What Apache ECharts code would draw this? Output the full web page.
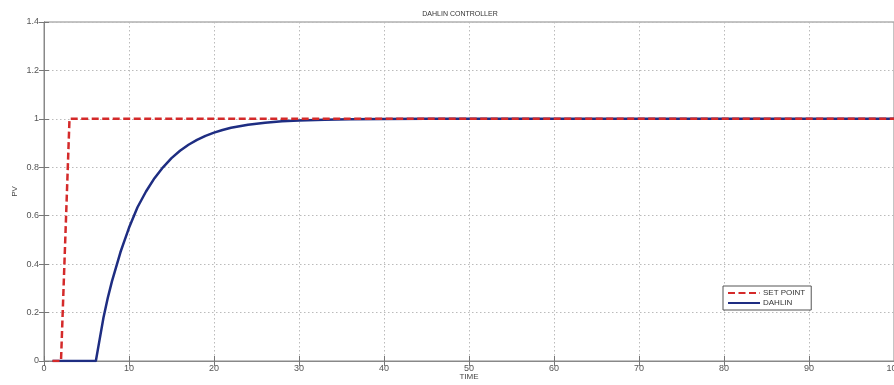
<!DOCTYPE html>
<html><head><meta charset="utf-8">
<script src="https://cdn.jsdelivr.net/npm/echarts@6/dist/echarts.min.js"></script>
<style>html,body{margin:0;padding:0;background:#fff}#c{width:894px;height:385px}</style>
</head><body><div id="c"></div>
<script>
const titleText = 'DAHLIN CONTROLLER';
const xLabel = 'TIME';
const yLabel = 'PV';
const seriesNames = ['SET POINT', 'DAHLIN'];
const setPointT = [1, 2, 3, 100];
const setPointV = [0, 0, 1, 1];
const dahlinT = [1, 6.1, 6.5, 7, 7.5, 8, 8.5, 9, 9.5, 10, 11, 12, 13, 14, 15, 16, 17, 18, 19, 20, 21, 22, 24, 26, 28, 30, 33, 36, 40, 45, 50, 60, 70, 80, 90, 100];
const dahlinV = [0, 0, 0.08, 0.18, 0.26, 0.33, 0.39, 0.45, 0.5, 0.55, 0.635, 0.7, 0.755, 0.8, 0.838, 0.868, 0.893, 0.913, 0.93, 0.943, 0.954, 0.963, 0.976, 0.984, 0.99, 0.993, 0.996, 0.998, 0.999, 1, 1, 1, 1, 1, 1, 1];

const pair = (t, v) => t.map((x, i) => [x, v[i]]);
const chart = echarts.init(document.getElementById('c'));
const labelFont = {color: '#555', fontSize: 9, fontFamily: 'Liberation Sans'};
chart.setOption({
  animation: false,
  backgroundColor: '#fff',
  title: {text: titleText, left: 455, top: 6, textAlign: 'center',
    textStyle: {fontSize: 7, fontWeight: 'normal', color: '#333', fontFamily: 'Liberation Sans'}},
  grid: {left: 44, right: 0, top: 22, bottom: 24, show: true, borderColor: '#888', borderWidth: 1,
    containLabel: false, outerBoundsMode: 'none'},
  legend: {
    orient: 'vertical', left: 723, top: 286, itemWidth: 32, itemHeight: 10, itemGap: 2,
    padding: [3, 6, 3, 4], borderColor: '#555', borderWidth: 1, backgroundColor: '#fff',
    itemStyle: {opacity: 0},
    textStyle: {fontSize: 8, color: '#333', fontFamily: 'Liberation Sans', padding: [0,0,0,-2]},
    data: seriesNames
  },
  xAxis: [{
    type: 'value', min: 0, max: 100, interval: 10,
    name: xLabel, nameLocation: 'middle', nameGap: 12, nameMoveOverlap: false,
    nameTextStyle: {fontSize: 8, color: '#444', fontFamily: 'Liberation Sans'},
    axisLine: {lineStyle: {color: '#888'}},
    axisTick: {inside: true, length: 5, lineStyle: {color: '#777'}},
    axisLabel: Object.assign({margin: 3}, labelFont),
    splitLine: {show: true, lineStyle: {type: [1.5, 2.5], color: '#bbb'}}
  }, {
    type: 'value', min: 0, max: 100, interval: 10, position: 'top',
    axisLine: {show: true, lineStyle: {color: '#888'}},
    axisTick: {inside: true, length: 5, lineStyle: {color: '#777'}},
    axisLabel: {show: false}, splitLine: {show: false}
  }],
  yAxis: [{
    type: 'value', min: 0, max: 1.4, interval: 0.2,
    name: yLabel, nameLocation: 'middle', nameGap: 25, nameMoveOverlap: false,
    nameTextStyle: {fontSize: 8, color: '#444', fontFamily: 'Liberation Sans'},
    axisLine: {show: true, lineStyle: {color: '#888'}},
    axisTick: {show: true, inside: true, length: 5, lineStyle: {color: '#777'}},
    axisLabel: Object.assign({margin: 5, formatter: v => String(+v.toFixed(1))}, labelFont),
    splitLine: {show: true, lineStyle: {type: [1.5, 2.5], color: '#bbb'}}
  }, {
    type: 'value', min: 0, max: 1.4, interval: 0.2, position: 'right',
    axisLine: {show: true, lineStyle: {color: '#888'}},
    axisTick: {show: true, inside: true, length: 5, lineStyle: {color: '#777'}},
    axisLabel: {show: false}, splitLine: {show: false}
  }],
  series: [{
    name: seriesNames[0], type: 'line', data: pair(setPointT, setPointV), symbol: 'none',
    lineStyle: {color: '#d42a2a', width: 2.5, type: [7, 3.5]}, itemStyle: {color: '#d42a2a'}, z: 3
  }, {
    name: seriesNames[1], type: 'line', data: pair(dahlinT, dahlinV), symbol: 'none',
    lineStyle: {color: '#1e2d82', width: 2.5}, itemStyle: {color: '#1e2d82'}, z: 2
  }]
});
</script></body></html>
